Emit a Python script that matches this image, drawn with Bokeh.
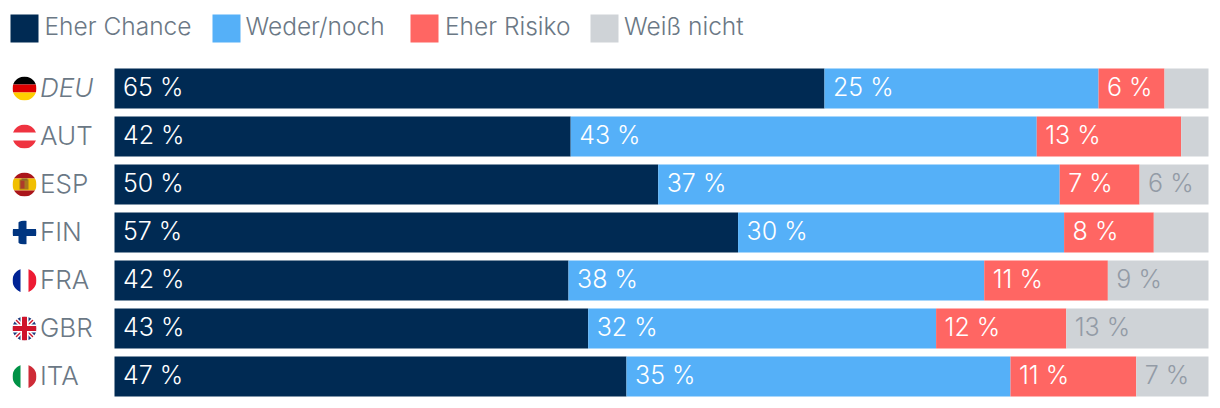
from bokeh.plotting import figure
from bokeh.models import Range1d
from bokeh.core.properties import value
from bokeh.embed import file_html
from bokeh.resources import INLINE

countries = ["DEU", "AUT", "ESP", "FIN", "FRA", "GBR", "ITA"]
series = ["Eher Chance", "Weder/noch", "Eher Risiko", "Weiß nicht"]
colors = ["#002a53", "#55b0f8", "#ff6663", "#cfd3d7"]
chance = [64.9, 41.7, 49.7, 57.0, 41.5, 43.3, 46.8]
weder = [25.05, 42.6, 36.7, 29.8, 38.0, 31.8, 35.1]
risiko = [6.03, 13.2, 7.3, 8.2, 11.3, 11.9, 11.5]
weiss = [4.02, 2.5, 6.3, 5.0, 9.2, 13.0, 6.6]
lab_chance = ["65 %", "42 %", "50 %", "57 %", "42 %", "43 %", "47 %"]
lab_weder = ["25 %", "43 %", "37 %", "30 %", "38 %", "32 %", "35 %"]
lab_risiko = ["6 %", "13 %", "7 %", "8 %", "11 %", "12 %", "11 %"]
lab_weiss = ["", "", "6 %", "", "9 %", "13 %", "7 %"]

FONT = "Inter Light"
TXT = "#6b7885"
PX = 1094 / 100.0

W, H = 1212, 400
p = figure(width=W, height=H, output_backend="svg", toolbar_location=None,
           x_range=Range1d(-114 / PX, (W - 114) / PX),
           y_range=Range1d((H - 88) / 48, -88 / 48), min_border=0, outline_line_color=None)
p.xaxis.visible = False
p.yaxis.visible = False
p.grid.visible = False
p.background_fill_color = "white"
p.border_fill_color = "white"
p.extra_x_ranges = {"px": Range1d(0, W)}
p.extra_y_ranges = {"px": Range1d(H, 0)}

rows = list(range(len(countries)))
vals = [chance, weder, risiko, weiss]
labs = [lab_chance, lab_weder, lab_risiko, lab_weiss]
lab_cols = ["white", "white", "white", "#939ba6"]
left = [0.0] * len(rows)
for v, c, l, lc in zip(vals, colors, labs, lab_cols):
    right = [a + b for a, b in zip(left, v)]
    p.hbar(y=rows, left=left, right=right, height=40 / 48, fill_color=c, line_color=None)
    p.text(x=left, y=rows, text=l, x_offset=8.5, y_offset=-1.5, text_color=lc, text_font=value(FONT),
           text_font_size="25px", text_baseline="middle", text_align="left")
    left = right

# legend: swatches and labels placed in page pixels
leg_x = [10, 212, 410, 590]
leg_tx = [44, 245, 444.5, 623.5]
p.quad(left=leg_x, right=[a + 28 for a in leg_x], top=[14] * 4, bottom=[42] * 4, fill_color=colors,
       line_color=None, x_range_name="px", y_range_name="px")
p.text(x=leg_tx, y=[25] * 4, text=series, text_color=TXT, text_font=value(FONT), text_font_size="24.5px",
       text_baseline="middle", text_align="left", x_range_name="px", y_range_name="px")

# flags, drawn in page pixels and masked to a circle
polys = []
def q(x0, x1, y0, y1, c):
    polys.append(([x0, x1, x1, x0], [y0, y0, y1, y1], c))
def poly(xs, ys, c):
    polys.append((xs, ys, c))

cx, R = 24, 12
cy = [88 + 48 * i for i in rows]
y = cy[0]; t = y - R
q(12, 36, t, t + 8, "#000000"); q(12, 36, t + 8, t + 16, "#dd0000"); q(12, 36, t + 16, t + 24, "#ffce00")
y = cy[1]; t = y - R
q(12, 36, t, t + 8, "#ef3340"); q(12, 36, t + 16, t + 24, "#ef3340")
y = cy[2]; t = y - R
q(12, 36, t, t + 6, "#aa151b"); q(12, 36, t + 6, t + 18, "#f1bf00"); q(12, 36, t + 18, t + 24, "#aa151b")
q(19, 28, y - 5, y + 5, "#a8781f"); q(20, 24, y - 4, y + 4, "#ad3b2a"); q(21, 27, y - 6, y - 4, "#8c6a2a")
y = cy[3]
q(18, 26, y - 12, y + 12, "#003580"); q(12, 36, y - 3.5, y + 3.5, "#003580")
y = cy[4]
q(12, 20, y - 12, y + 12, "#002395"); q(28, 36, y - 12, y + 12, "#ed1b34")
y = cy[5]; t = y - R; b = y + R
q(12, 36, t, b, "#1f3b7d")
for (a, e) in [((12, t), (36, b)), ((36, t), (12, b))]:
    dx = 3.0
    poly([a[0] - dx, a[0] + dx, e[0] + dx, e[0] - dx], [a[1], a[1], e[1], e[1]], "#ffffff")
    poly([a[0] - 1, a[0] + 1, e[0] + 1, e[0] - 1], [a[1], a[1], e[1], e[1]], "#cf142b")
q(20, 28, t, b, "#ffffff"); q(12, 36, y - 4, y + 4, "#ffffff")
q(21.5, 26.5, t, b, "#cf142b"); q(12, 36, y - 2.5, y + 2.5, "#cf142b")
y = cy[6]
q(12, 20, y - 12, y + 12, "#009246"); q(28, 36, y - 12, y + 12, "#ce2b37")

p.patches(xs=[a[0] for a in polys], ys=[a[1] for a in polys], fill_color=[a[2] for a in polys],
          line_color=None, x_range_name="px", y_range_name="px")
p.annulus(x=[cx] * 7, y=cy, inner_radius=12, outer_radius=18, inner_radius_units="screen",
          outer_radius_units="screen", fill_color="white", line_color=None,
          x_range_name="px", y_range_name="px")

styles = ["italic"] + ["normal"] * 6
p.text(x=[39.5] * 7, y=cy, text=countries, y_offset=-1.5, text_color=TXT, text_font=value(FONT),
       text_font_size="26px", text_baseline="middle", text_align="left",
       text_font_style=styles, x_range_name="px", y_range_name="px")

open("out.html", "w").write(file_html(p, INLINE))
